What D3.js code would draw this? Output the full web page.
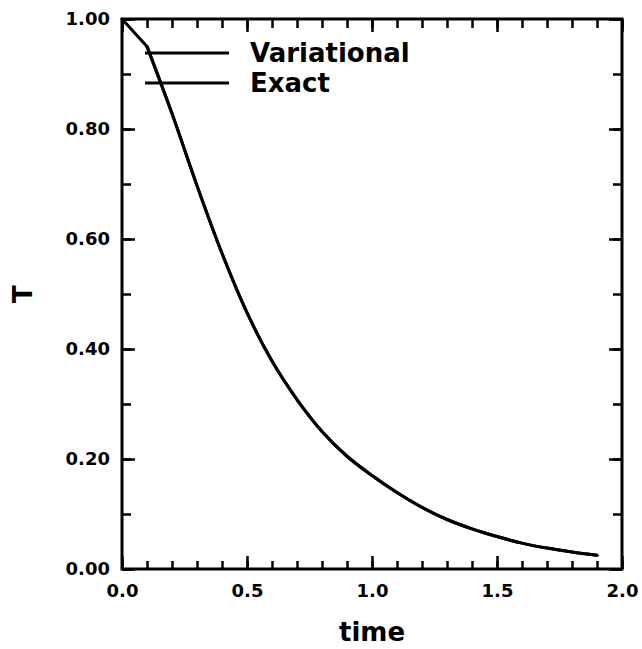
<!DOCTYPE html>
<html>
<head>
<meta charset="utf-8">
<script src="https://cdn.jsdelivr.net/npm/d3@7"></script>
<style>
	body { margin: 0; background: #fff; }
	text { font-family: 'DejaVu Sans', sans-serif; font-weight: bold; fill: #000; }
</style>
</head>
<body>
<div class="chart"></div>
<script>
// values
const times = [0.0, 0.1, 0.2, 0.3, 0.4, 0.5, 0.6, 0.7, 0.8, 0.9, 1.0,
	1.1, 1.2, 1.3, 1.4, 1.5, 1.6, 1.7, 1.8, 1.9];
const variational = [1.0, 0.95, 0.828, 0.697, 0.574, 0.466, 0.378, 0.308, 0.25, 0.205, 0.17,
	0.139, 0.112, 0.09, 0.073, 0.059, 0.047, 0.038, 0.031, 0.025];
// exact curve is hidden under the variational one; first sample not visible
const exact = [null, 0.95, 0.828, 0.697, 0.574, 0.466, 0.378, 0.308, 0.25, 0.205, 0.17,
	0.139, 0.112, 0.09, 0.073, 0.059, 0.047, 0.038, 0.031, 0.025];
const seriesNames = ['Variational', 'Exact'];
const xMajor = [0.0, 0.5, 1.0, 1.5, 2.0];
const yMajor = [0.0, 0.2, 0.4, 0.6, 0.8, 1.0];

const width = 642,
	height = 649,
	margin = { top: 19, right: 20, bottom: 80, left: 122 },
	innerW = width - margin.left - margin.right,
	innerH = height - margin.top - margin.bottom;

let x = d3.scaleLinear().domain([0, 2]).range([0, innerW]),
	y = d3.scaleLinear().domain([0, 1]).range([innerH, 0]),
	xMinor = d3.range(0, 21).map(i => i / 10),
	yMinor = d3.range(0, 11).map(i => i / 10);

let svg = d3.select('.chart').append('svg')
	.attr('width', width)
	.attr('height', height);

let g = svg.append('g').attr('transform', 'translate(' + margin.left + ',' + margin.top + ')');

function addAxis(axis, tr) {
	let a = g.append('g').attr('transform', tr).call(axis);
	a.select('.domain').remove();
	a.selectAll('line').attr('stroke', '#000').attr('stroke-width', 2.5);
	a.selectAll('text').style('font-size', '18px').attr('fill', '#000');
	return a;
}

// bottom / top ticks (inward)
addAxis(d3.axisBottom(x).tickValues(xMinor).tickSize(-8).tickFormat(''), 'translate(0,' + innerH + ')');
addAxis(d3.axisBottom(x).tickValues(xMajor).tickSize(-13).tickPadding(15).tickFormat(d3.format('.1f')), 'translate(0,' + innerH + ')');
addAxis(d3.axisTop(x).tickValues(xMinor).tickSize(-9).tickFormat(''), 'translate(0,0)');
addAxis(d3.axisTop(x).tickValues(xMajor).tickSize(-13).tickFormat(''), 'translate(0,0)');

// left / right ticks (inward)
addAxis(d3.axisLeft(y).tickValues(yMinor).tickSize(-9).tickFormat(''), 'translate(0,0)');
addAxis(d3.axisLeft(y).tickValues(yMajor).tickSize(-13).tickPadding(12).tickFormat(d3.format('.2f')), 'translate(0,0)');
addAxis(d3.axisRight(y).tickValues(yMinor).tickSize(-9).tickFormat(''), 'translate(' + innerW + ',0)');
addAxis(d3.axisRight(y).tickValues(yMajor).tickSize(-13).tickFormat(''), 'translate(' + innerW + ',0)');

// frame
g.append('rect')
	.attr('width', innerW)
	.attr('height', innerH)
	.attr('fill', 'none')
	.attr('stroke', '#000')
	.attr('stroke-width', 3);

let lineExact = d3.line()
	.defined(d => d != null)
	.curve(d3.curveMonotoneX)
	.x((d, i) => x(times[i]))
	.y(d => y(d));

// variational: straight first segment, smooth afterwards
let lineVar = d3.line()
	.x((d, i) => x(times[i]))
	.y(d => y(d));

g.append('path')
	.datum(exact)
	.attr('fill', 'none')
	.attr('stroke', '#000')
	.attr('stroke-width', 3)
	.attr('stroke-linecap', 'round')
	.attr('d', lineExact);

g.append('path')
	.datum(variational.slice(0, 2))
	.attr('fill', 'none')
	.attr('stroke', '#000')
	.attr('stroke-width', 3)
	.attr('stroke-linecap', 'round')
	.attr('stroke-linejoin', 'round')
	.attr('d', lineVar);

g.append('path')
	.datum(variational)
	.attr('fill', 'none')
	.attr('stroke', '#000')
	.attr('stroke-width', 3)
	.attr('stroke-linecap', 'round')
	.attr('d', lineExact.defined((d, i) => i >= 1));

// legend
let legend = g.selectAll('.legend')
	.data(seriesNames)
	.enter().append('g')
	.attr('class', 'legend')
	.attr('transform', (d, i) => 'translate(23,' + (34 + i * 30) + ')');

legend.append('line')
	.attr('x1', 0).attr('x2', 84)
	.attr('stroke', '#000')
	.attr('stroke-width', 3);

legend.append('text')
	.attr('x', 105)
	.attr('dy', '0.33em')
	.style('font-size', '26px')
	.text(d => d);

// axis titles
g.append('text')
	.attr('x', innerW / 2)
	.attr('y', innerH + 72)
	.attr('text-anchor', 'middle')
	.style('font-size', '26px')
	.text('time');

g.append('text')
	.attr('transform', 'translate(-90,' + (innerH / 2) + ') rotate(-90)')
	.attr('text-anchor', 'middle')
	.style('font-size', '26px')
	.text('T');
</script>
</body>
</html>
